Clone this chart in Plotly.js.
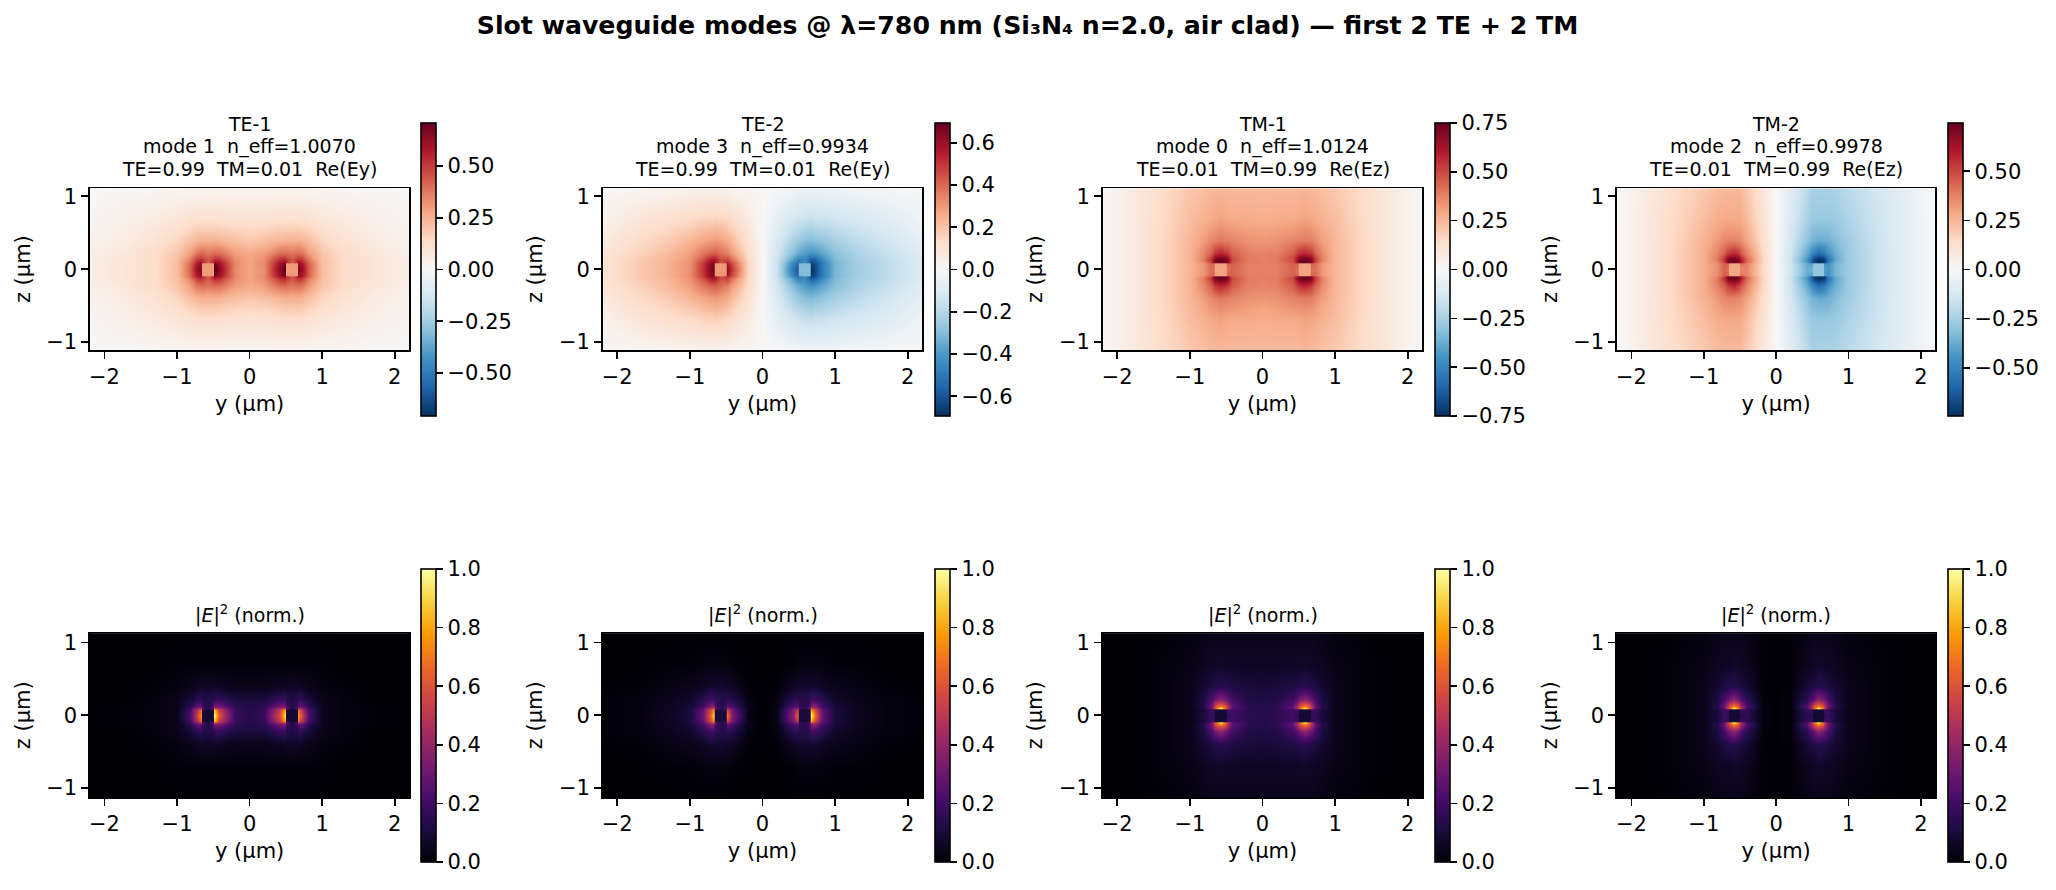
<!DOCTYPE html>
<html><head><meta charset="utf-8">
<script src="https://cdn.plot.ly/plotly-3.0.1.min.js"></script>
<style>html,body{margin:0;padding:0;background:#fff}#g{width:2056px;height:890px}</style>
</head><body><div id="g"></div>
<script>
// Sample positions (µm) of the values
const yPositions=[-2.2,-1.7,-1.3,-1,-.82,-.72,-.665,-.655,-.58,-.505,-.495,-.42,-.2,0,.2,.42,.495,.505,.58,.655,.665,.72,.82,1,1.3,1.7,2.2];
const zPositions=[-1.13,-.7,-.4,-.22,-.13,-.095,-.085,0,.085,.095,.13,.22,.4,.7,1.13];

// Field values in hundredths, one row per zPositions entry
const te1Field=[
[0,0,1,1,1,1,1,1,1,1,1,1,1,1,1,1,1,1,1,1,1,1,1,1,1,0,0],
[1,4,6,8,10,11,11,11,11,11,11,11,10,10,10,11,11,11,11,11,11,11,10,8,6,4,1],
[3,6,10,15,21,24,25,25,25,25,25,24,21,19,21,24,25,25,25,25,25,24,21,15,10,6,3],
[4,8,13,20,30,38,40,40,38,40,40,40,30,27,30,40,40,40,38,40,40,38,30,20,13,8,4],
[5,9,13,21,36,50,52,50,44,50,54,52,33,28,33,52,54,50,44,50,52,50,36,21,13,9,5],
[5,9,13,22,40,55,60,55,42,55,62,58,34,28,34,58,62,55,42,55,60,55,40,22,13,9,5],
[5,9,13,22,41,58,62,31,31,31,70,60,34,28,34,60,70,31,31,31,62,58,41,22,13,9,5],
[5,9,13,22,42,62,66,30,30,30,75,65,33,28,33,65,75,30,30,30,66,62,42,22,13,9,5],
[5,9,13,22,41,58,62,31,31,31,70,60,34,28,34,60,70,31,31,31,62,58,41,22,13,9,5],
[5,9,13,22,40,55,60,55,42,55,62,58,34,28,34,58,62,55,42,55,60,55,40,22,13,9,5],
[5,9,13,21,36,50,52,50,44,50,54,52,33,28,33,52,54,50,44,50,52,50,36,21,13,9,5],
[4,8,13,20,30,38,40,40,38,40,40,40,30,27,30,40,40,40,38,40,40,38,30,20,13,8,4],
[3,6,10,15,21,24,25,25,25,25,25,24,21,19,21,24,25,25,25,25,25,24,21,15,10,6,3],
[1,4,6,8,10,11,11,11,11,11,11,11,10,10,10,11,11,11,11,11,11,11,10,8,6,4,1],
[0,0,1,1,1,1,1,1,1,1,1,1,1,1,1,1,1,1,1,1,1,1,1,1,1,0,0]];
const te2Field=[
[0,1,1,2,2,2,2,2,2,2,2,1,1,0,-1,-1,-2,-2,-2,-2,-2,-2,-2,-2,-1,-1,0],
[3,8,11,13,15,15,16,16,15,14,14,12,6,0,-6,-12,-14,-14,-15,-16,-16,-15,-15,-13,-11,-8,-3],
[6,13,18,23,27,29,30,30,29,26,26,22,10,0,-10,-22,-26,-26,-29,-30,-30,-29,-27,-23,-18,-13,-6],
[8,16,22,29,37,41,42,42,39,36,36,30,13,0,-13,-30,-36,-36,-39,-42,-42,-41,-37,-29,-22,-16,-8],
[9,18,23,31,44,56,58,55,45,46,48,38,14,0,-14,-38,-48,-46,-45,-55,-58,-56,-44,-31,-23,-18,-9],
[9,18,24,32,48,60,63,58,43,50,52,44,15,0,-15,-44,-52,-50,-43,-58,-63,-60,-48,-32,-24,-18,-9],
[9,18,24,32,49,62,66,31,30,31,58,46,15,0,-15,-46,-58,-31,-30,-31,-66,-62,-49,-32,-24,-18,-9],
[9,18,24,32,50,64,70,30,30,30,62,50,15,0,-15,-50,-62,-30,-30,-30,-70,-64,-50,-32,-24,-18,-9],
[9,18,24,32,49,62,66,31,30,31,58,46,15,0,-15,-46,-58,-31,-30,-31,-66,-62,-49,-32,-24,-18,-9],
[9,18,24,32,48,60,63,58,43,50,52,44,15,0,-15,-44,-52,-50,-43,-58,-63,-60,-48,-32,-24,-18,-9],
[9,18,23,31,44,56,58,55,45,46,48,38,14,0,-14,-38,-48,-46,-45,-55,-58,-56,-44,-31,-23,-18,-9],
[8,16,22,29,37,41,42,42,39,36,36,30,13,0,-13,-30,-36,-36,-39,-42,-42,-41,-37,-29,-22,-16,-8],
[6,13,18,23,27,29,30,30,29,26,26,22,10,0,-10,-22,-26,-26,-29,-30,-30,-29,-27,-23,-18,-13,-6],
[3,8,11,13,15,15,16,16,15,14,14,12,6,0,-6,-12,-14,-14,-15,-16,-16,-15,-15,-13,-11,-8,-3],
[0,1,1,2,2,2,2,2,2,2,2,1,1,0,-1,-1,-2,-2,-2,-2,-2,-2,-2,-2,-1,-1,0]];
const tm1Field=[
[0,8,15,20,22,24,24,24,25,24,24,24,24,24,24,24,24,24,25,24,24,24,22,20,15,8,0],
[0,8,16,23,26,28,29,29,30,29,29,28,28,27,28,28,29,29,30,29,29,28,26,23,16,8,0],
[0,8,17,25,31,36,38,38,39,38,38,37,34,33,34,37,38,38,39,38,38,36,31,25,17,8,0],
[0,8,17,25,36,45,54,54,58,54,54,46,38,37,38,46,54,54,58,54,54,45,36,25,17,8,0],
[0,8,17,25,38,54,70,72,75,72,70,50,39,38,39,50,70,72,75,72,70,54,38,25,17,8,0],
[0,8,17,25,36,50,70,70,75,70,70,47,39,38,39,47,70,70,75,70,70,50,36,25,17,8,0],
[0,8,17,25,33,43,44,31,30,31,44,45,38,38,38,45,44,31,30,31,44,43,33,25,17,8,0],
[0,8,17,25,33,42,40,30,30,30,40,44,38,38,38,44,40,30,30,30,40,42,33,25,17,8,0],
[0,8,17,25,33,43,44,31,30,31,44,45,38,38,38,45,44,31,30,31,44,43,33,25,17,8,0],
[0,8,17,25,36,50,70,70,75,70,70,47,39,38,39,47,70,70,75,70,70,50,36,25,17,8,0],
[0,8,17,25,38,54,70,72,75,72,70,50,39,38,39,50,70,72,75,72,70,54,38,25,17,8,0],
[0,8,17,25,36,45,54,54,58,54,54,46,38,37,38,46,54,54,58,54,54,45,36,25,17,8,0],
[0,8,17,25,31,36,38,38,39,38,38,37,34,33,34,37,38,38,39,38,38,36,31,25,17,8,0],
[0,8,16,23,26,28,29,29,30,29,29,28,28,27,28,28,29,29,30,29,29,28,26,23,16,8,0],
[0,8,15,20,22,24,24,24,25,24,24,24,24,24,24,24,24,24,25,24,24,24,22,20,15,8,0]];
const tm2Field=[
[0,8,15,20,23,24,24,24,24,24,24,20,9,0,-9,-20,-24,-24,-24,-24,-24,-24,-23,-20,-15,-8,0],
[0,9,17,23,27,28,28,28,28,28,28,24,11,0,-11,-24,-28,-28,-28,-28,-28,-28,-27,-23,-17,-9,0],
[0,9,18,26,32,36,37,37,37,35,35,30,14,0,-14,-30,-35,-35,-37,-37,-37,-36,-32,-26,-18,-9,0],
[0,9,19,27,37,45,53,53,57,50,48,38,16,0,-16,-38,-48,-50,-57,-53,-53,-45,-37,-27,-19,-9,0],
[0,9,19,27,39,55,70,72,74,68,62,44,17,0,-17,-44,-62,-68,-74,-72,-70,-55,-39,-27,-19,-9,0],
[0,9,19,27,37,50,70,70,74,66,62,43,17,0,-17,-43,-62,-66,-74,-70,-70,-50,-37,-27,-19,-9,0],
[0,9,19,27,35,45,44,30,29,30,40,38,16,0,-16,-38,-40,-30,-29,-30,-44,-45,-35,-27,-19,-9,0],
[0,9,19,27,35,44,40,29,29,29,35,37,16,0,-16,-37,-35,-29,-29,-29,-40,-44,-35,-27,-19,-9,0],
[0,9,19,27,35,45,44,30,29,30,40,38,16,0,-16,-38,-40,-30,-29,-30,-44,-45,-35,-27,-19,-9,0],
[0,9,19,27,37,50,70,70,74,66,62,43,17,0,-17,-43,-62,-66,-74,-70,-70,-50,-37,-27,-19,-9,0],
[0,9,19,27,39,55,70,72,74,68,62,44,17,0,-17,-44,-62,-68,-74,-72,-70,-55,-39,-27,-19,-9,0],
[0,9,19,27,37,45,53,53,57,50,48,38,16,0,-16,-38,-48,-50,-57,-53,-53,-45,-37,-27,-19,-9,0],
[0,9,18,26,32,36,37,37,37,35,35,30,14,0,-14,-30,-35,-35,-37,-37,-37,-36,-32,-26,-18,-9,0],
[0,9,17,23,27,28,28,28,28,28,28,24,11,0,-11,-24,-28,-28,-28,-28,-28,-28,-27,-23,-17,-9,0],
[0,8,15,20,23,24,24,24,24,24,24,20,9,0,-9,-20,-24,-24,-24,-24,-24,-24,-23,-20,-15,-8,0]];
const te1Intensity=[
[0,0,0,0,0,0,0,0,0,0,0,0,0,0,0,0,0,0,0,0,0,0,0,0,0,0,0],
[0,0,0,1,1,1,1,1,1,1,1,1,1,1,1,1,1,1,1,1,1,1,1,1,0,0,0],
[0,0,1,2,4,5,6,6,6,6,6,5,4,4,4,5,6,6,6,6,6,5,4,2,1,0,0],
[0,0,2,4,9,15,16,14,13,14,17,17,11,10,11,17,17,14,13,14,16,15,9,4,2,0,0],
[0,1,2,4,14,27,28,18,12,20,33,32,15,13,15,32,33,20,12,18,28,27,14,4,2,1,0],
[0,1,2,4,18,38,46,26,12,28,55,44,17,13,17,44,55,28,12,26,46,38,18,4,2,1,0],
[0,1,2,4,20,46,65,10,9,10,84,52,17,13,17,52,84,10,9,10,65,46,20,4,2,1,0],
[0,1,2,4,22,55,76,9,8,9,100,60,18,13,18,60,100,9,8,9,76,55,22,4,2,1,0],
[0,1,2,4,20,46,65,10,9,10,84,52,17,13,17,52,84,10,9,10,65,46,20,4,2,1,0],
[0,1,2,4,18,38,46,26,12,28,55,44,17,13,17,44,55,28,12,26,46,38,18,4,2,1,0],
[0,1,2,4,14,27,28,18,12,20,33,32,15,13,15,32,33,20,12,18,28,27,14,4,2,1,0],
[0,0,2,4,9,15,16,14,13,14,17,17,11,10,11,17,17,14,13,14,16,15,9,4,2,0,0],
[0,0,1,2,4,5,6,6,6,6,6,5,4,4,4,5,6,6,6,6,6,5,4,2,1,0,0],
[0,0,0,1,1,1,1,1,1,1,1,1,1,1,1,1,1,1,1,1,1,1,1,1,0,0,0],
[0,0,0,0,0,0,0,0,0,0,0,0,0,0,0,0,0,0,0,0,0,0,0,0,0,0,0]];
const te2Intensity=[
[0,0,0,0,0,0,0,0,0,0,0,0,0,0,0,0,0,0,0,0,0,0,0,0,0,0,0],
[0,0,1,1,2,2,2,2,2,2,2,1,0,0,0,1,2,2,2,2,2,2,2,1,1,0,0],
[0,1,3,4,6,8,8,8,8,7,7,6,1,0,1,6,7,7,8,8,8,8,6,4,3,1,0],
[1,2,4,7,14,20,20,16,14,14,15,14,2,0,2,14,15,14,14,16,20,20,14,7,4,2,1],
[1,2,5,9,20,36,36,22,14,16,26,22,3,0,3,22,26,16,14,22,36,36,20,9,5,2,1],
[1,2,5,10,25,48,58,30,13,22,40,28,3,0,3,28,40,22,13,30,58,48,25,10,5,2,1],
[1,2,5,10,28,58,80,11,11,11,58,32,3,0,3,32,58,11,11,11,80,58,28,10,5,2,1],
[1,2,5,10,30,68,100,10,10,10,72,36,3,0,3,36,72,10,10,10,100,68,30,10,5,2,1],
[1,2,5,10,28,58,80,11,11,11,58,32,3,0,3,32,58,11,11,11,80,58,28,10,5,2,1],
[1,2,5,10,25,48,58,30,13,22,40,28,3,0,3,28,40,22,13,30,58,48,25,10,5,2,1],
[1,2,5,9,20,36,36,22,14,16,26,22,3,0,3,22,26,16,14,22,36,36,20,9,5,2,1],
[1,2,4,7,14,20,20,16,14,14,15,14,2,0,2,14,15,14,14,16,20,20,14,7,4,2,1],
[0,1,3,4,6,8,8,8,8,7,7,6,1,0,1,6,7,7,8,8,8,8,6,4,3,1,0],
[0,0,1,1,2,2,2,2,2,2,2,1,0,0,0,1,2,2,2,2,2,2,2,1,1,0,0],
[0,0,0,0,0,0,0,0,0,0,0,0,0,0,0,0,0,0,0,0,0,0,0,0,0,0,0]];
const tm1Intensity=[
[0,0,1,2,3,4,4,4,4,4,4,4,4,4,4,4,4,4,4,4,4,4,3,2,1,0,0],
[0,0,2,3,5,6,6,6,7,6,6,6,6,6,6,6,6,6,7,6,6,6,5,3,2,0,0],
[0,0,2,4,8,11,13,13,14,13,13,12,10,9,10,12,13,13,14,13,13,11,8,4,2,0,0],
[0,0,2,4,11,22,29,31,38,31,29,20,13,11,13,20,29,31,38,31,29,22,11,4,2,0,0],
[0,0,2,4,13,30,50,58,72,58,50,27,15,13,15,27,50,58,72,58,50,30,13,4,2,0,0],
[0,0,2,4,12,26,55,60,100,60,55,26,15,13,15,26,55,60,100,60,55,26,12,4,2,0,0],
[0,0,2,4,10,19,20,10,9,10,20,21,15,13,15,21,20,10,9,10,20,19,10,4,2,0,0],
[0,0,2,4,10,18,15,8,8,8,15,20,15,13,15,20,15,8,8,8,15,18,10,4,2,0,0],
[0,0,2,4,10,19,20,10,9,10,20,21,15,13,15,21,20,10,9,10,20,19,10,4,2,0,0],
[0,0,2,4,12,26,55,60,100,60,55,26,15,13,15,26,55,60,100,60,55,26,12,4,2,0,0],
[0,0,2,4,13,30,50,58,72,58,50,27,15,13,15,27,50,58,72,58,50,30,13,4,2,0,0],
[0,0,2,4,11,22,29,31,38,31,29,20,13,11,13,20,29,31,38,31,29,22,11,4,2,0,0],
[0,0,2,4,8,11,13,13,14,13,13,12,10,9,10,12,13,13,14,13,13,11,8,4,2,0,0],
[0,0,2,3,5,6,6,6,7,6,6,6,6,6,6,6,6,6,7,6,6,6,5,3,2,0,0],
[0,0,1,2,3,4,4,4,4,4,4,4,4,4,4,4,4,4,4,4,4,4,3,2,1,0,0]];
const tm2Intensity=[
[0,0,1,2,3,4,4,4,4,4,4,3,1,0,1,3,4,4,4,4,4,4,3,2,1,0,0],
[0,0,2,3,5,6,6,6,7,6,6,5,1,0,1,5,6,6,7,6,6,6,5,3,2,0,0],
[0,0,2,4,8,11,13,13,14,11,11,9,1,0,1,9,11,11,14,13,13,11,8,4,2,0,0],
[0,0,2,4,11,22,29,31,38,27,25,16,2,0,2,16,25,27,38,31,29,22,11,4,2,0,0],
[0,0,2,4,13,31,50,58,72,56,46,24,2,0,2,24,46,56,72,58,50,31,13,4,2,0,0],
[0,0,2,4,12,27,55,60,100,58,50,22,2,0,2,22,50,58,100,60,55,27,12,4,2,0,0],
[0,0,2,4,10,19,20,10,9,10,18,17,2,0,2,17,18,10,9,10,20,19,10,4,2,0,0],
[0,0,2,4,10,18,15,8,8,8,13,16,2,0,2,16,13,8,8,8,15,18,10,4,2,0,0],
[0,0,2,4,10,19,20,10,9,10,18,17,2,0,2,17,18,10,9,10,20,19,10,4,2,0,0],
[0,0,2,4,12,27,55,60,100,58,50,22,2,0,2,22,50,58,100,60,55,27,12,4,2,0,0],
[0,0,2,4,13,31,50,58,72,56,46,24,2,0,2,24,46,56,72,58,50,31,13,4,2,0,0],
[0,0,2,4,11,22,29,31,38,27,25,16,2,0,2,16,25,27,38,31,29,22,11,4,2,0,0],
[0,0,2,4,8,11,13,13,14,11,11,9,1,0,1,9,11,11,14,13,13,11,8,4,2,0,0],
[0,0,2,3,5,6,6,6,7,6,6,5,1,0,1,5,6,6,7,6,6,6,5,3,2,0,0],
[0,0,1,2,3,4,4,4,4,4,4,3,1,0,1,3,4,4,4,4,4,4,3,2,1,0,0]];

const fieldGrids=[te1Field,te2Field,tm1Field,tm2Field];
const intensityGrids=[te1Intensity,te2Intensity,tm1Intensity,tm2Intensity];
const fieldLimits=[0.708,0.694,0.75,0.745];
const fieldTicks=[0.25,0.2,0.25,0.25];
const fieldTickFormats=['.2f','.1f','.2f','.2f'];
const modeNames=['TE-1','TE-2','TM-1','TM-2'];
const modeLines=['mode 1\u00a0\u00a0n_eff=1.0070','mode 3\u00a0\u00a0n_eff=0.9934','mode 0\u00a0\u00a0n_eff=1.0124','mode 2\u00a0\u00a0n_eff=0.9978'];
const purityLines=['TE=0.99\u00a0\u00a0TM=0.01\u00a0\u00a0Re(Ey)','TE=0.99\u00a0\u00a0TM=0.01\u00a0\u00a0Re(Ey)','TE=0.01\u00a0\u00a0TM=0.99\u00a0\u00a0Re(Ez)','TE=0.01\u00a0\u00a0TM=0.99\u00a0\u00a0Re(Ez)'];
const intensityTitle='|<i>E</i>|<sup>2</sup> (norm.)';
const chartTitle='Slot waveguide modes @ \u03bb=780 nm (Si\u2083N\u2084 n=2.0, air clad) \u2014 first 2 TE + 2 TM';

const rdBuR=[[0,'#053061'],[.1,'#2166ac'],[.2,'#4393c3'],[.3,'#92c5de'],[.4,'#d1e5f0'],[.5,'#f7f7f7'],[.6,'#fddbc7'],[.7,'#f4a582'],[.8,'#d6604d'],[.9,'#b2182b'],[1,'#67001f']];
const inferno=['#000004','#1b0c41','#4a0c6b','#781c6d','#a52c60','#cf4446','#ed6925','#fb9b06','#f7d13d','#fcffa4'].map((c,i)=>[i/9,c]);

// Page geometry in pixels
const W=2056,H=890,FONT='DejaVu Sans';
const panelLeft=[90,602.7,1102.7,1617],panelRight=[409.3,922.3,1422.3,1935.3];
const barLeft=[421,935,1435,1948];
const rows=[{top:188.3,bottom:350,barTop:123,barBottom:416,zLim:1.108},
            {top:633.3,bottom:797.3,barTop:569,barBottom:862,zLim:1.127}];
const titleLineCentres=[124,146.5,169],intensityTitleCentre=614;
const tickFont={family:FONT,size:21,color:'#000'};
const subFont={family:FONT,size:19,color:'#000'};

function hundredths(g){return g.map(r=>r.map(v=>v/100));}
const data=[],layout={width:W,height:H,margin:{l:0,r:0,t:0,b:0},paper_bgcolor:'#fff',plot_bgcolor:'#fff',showlegend:false,
  title:{text:'<b>'+chartTitle+'</b>',font:{family:FONT,size:25.2,color:'#000'},x:1027.5/W,xanchor:'center',xref:'paper',y:1-25/H,yanchor:'middle',yref:'container'},
  annotations:[],shapes:[]};
for(let r=0;r<2;r++){for(let c=0;c<4;c++){
  const n=r*4+c+1,R=rows[r];
  const lim=r?null:fieldLimits[c];
  data.push({type:'heatmap',x:yPositions,y:zPositions,z:hundredths(r?intensityGrids[c]:fieldGrids[c]),
    xaxis:'x'+n,yaxis:'y'+n,zsmooth:'best',hoverinfo:'skip',
    colorscale:r?inferno:rdBuR,zmin:r?0:-lim,zmax:r?1:lim,
    colorbar:{x:barLeft[c]/W,xanchor:'left',xpad:0,ypad:0,y:1-(R.barTop+R.barBottom)/2/H,yanchor:'middle',
      thickness:15,thicknessmode:'pixels',len:R.barBottom-R.barTop,lenmode:'pixels',
      outlinewidth:1.6,outlinecolor:'#000',borderwidth:0,ticks:'outside',ticklen:7,tickwidth:1.6,tickcolor:'#000',
      tickfont:tickFont,tick0:0,dtick:r?0.2:fieldTicks[c],tickformat:r?'.1f':fieldTickFormats[c]}});
  const axis={showline:true,mirror:true,linewidth:1.6,linecolor:'#000',ticks:'outside',ticklen:7,tickwidth:1.6,tickcolor:'#000',
    zeroline:false,showgrid:false,tick0:0,dtick:1,tickfont:tickFont,fixedrange:true};
  layout['xaxis'+n]=Object.assign({},axis,{anchor:'y'+n,domain:[panelLeft[c]/W,panelRight[c]/W],range:[-2.2,2.2],
    title:{text:'y (\u00b5m)',font:tickFont,standoff:8}});
  layout['yaxis'+n]=Object.assign({},axis,{anchor:'x'+n,domain:[1-R.bottom/H,1-R.top/H],range:[-R.zLim,R.zLim],
    title:{text:'z (\u00b5m)',font:tickFont,standoff:10}});
  const cx=(panelLeft[c]+panelRight[c])/2/W;
  const note=(t,py)=>layout.annotations.push({xref:'paper',yref:'paper',x:cx,xanchor:'center',y:1-py/H,yanchor:'middle',
    showarrow:false,align:'center',font:subFont,text:t});
  if(r){
    note(intensityTitle,intensityTitleCentre);
    layout.shapes.push({type:'rect',xref:'x'+n+' domain',yref:'y'+n+' domain',x0:0,x1:1,y0:0,y1:1,layer:'below',fillcolor:'#000004',line:{width:0}});
  } else {
    [modeNames[c],modeLines[c],purityLines[c]].forEach((t,i)=>note(t,titleLineCentres[i]));
  }
}}
Plotly.newPlot('g',data,layout,{displayModeBar:false,staticPlot:true});
</script></body></html>
